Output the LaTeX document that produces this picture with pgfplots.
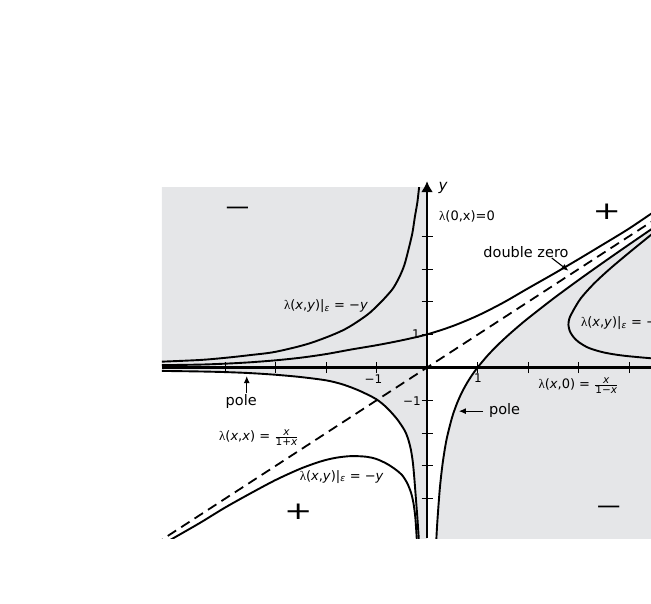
\documentclass[border=0pt]{standalone}
\usepackage{fontspec}
\setmainfont{DejaVu Sans}
\newfontfamily\lam{Liberation Serif}
\usepackage{pgfplots}
\pgfplotsset{compat=1.18}
\usetikzlibrary{arrows.meta}
\definecolor{shade}{RGB}{229,230,232}
\newcommand\lfrac[2]{$\frac{\mbox{\fontsize{10.5}{10.5}\selectfont #1}}{\mbox{\fontsize{10.5}{10.5}\selectfont #2}}$}
\newcommand\lab{\fontsize{13}{15}\selectfont}
\newcommand\bigsign{\fontsize{26}{26}\selectfont}
\begin{document}
\begin{tikzpicture}
\begin{axis}[
  at={(161.9pt,64.9pt)}, anchor=south west,
  scale only axis, width=489.85pt, height=350.96pt,
  xmin=-5.25, xmax=4.45, ymin=-5.2, ymax=5.5,
  axis lines=middle, axis on top,
  clip mode=individual,
  x axis line style={line width=2.5pt,-},
  y axis line style={line width=2.5pt,-{Latex[length=11pt,width=12pt]}, shorten >=-6pt},
  xtick={-4,-3,-2,-1,1,2,3,4}, ytick={-4,-3,-2,-1,1,2,3,4},
  xticklabels={}, yticklabels={},
  tick align=center, major tick length=11pt,
  tick style={line width=1pt, black},
]
% gray regions
\addplot[fill=shade, draw=none] coordinates {
 (-5.4,5.7) (0,5.7) (0,-5.4)
 (-0.16,-5.3) (-0.19,-4.6) (-0.22,-4.0) (-0.25,-3.4) (-0.28,-2.9) (-0.32,-2.5)
 (-0.38,-2.15) (-0.45,-1.9) (-0.6,-1.56) (-0.8,-1.22) (-1.0,-0.97) (-1.25,-0.77)
 (-1.46,-0.63) (-1.7,-0.5) (-2,-0.39) (-2.5,-0.29) (-3,-0.22) (-3.5,-0.17)
 (-3.97,-0.14) (-4.5,-0.12) (-5.4,-0.1)
} -- cycle;
\addplot[fill=shade, draw=none] coordinates {
 (0.18,-5.4) (0.2,-4.8) (0.25,-3.75) (0.3,-3.033) (0.35,-2.507) (0.4,-2.1)
 (0.5,-1.5) (0.6,-1.067) (0.7,-0.729) (0.8,-0.45) (0.9,-0.211) (1,0)
 (1.2,0.367) (1.4,0.686) (1.6,0.975) (1.8,1.244) (2,1.5) (2.5,2.1) (3,2.667)
 (3.5,3.214) (4,3.75) (4.6,4.383) (4.6,-5.4)
} -- cycle;
% dashed diagonal
\addplot[black, line width=1.8pt, dash pattern=on 10pt off 6pt] coordinates {(-5.4,-5.4) (4.6,4.6)};
% curve A (upper left)
\addplot[black, line width=1.9pt, smooth] coordinates {
 (-5.4,0.17) (-4.5,0.23) (-3.97,0.3) (-3.5,0.38) (-3.0,0.48) (-2.32,0.74)
 (-1.66,1.14) (-1.19,1.6) (-0.93,1.97) (-0.8,2.18) (-0.67,2.42) (-0.55,2.75)
 (-0.45,3.12) (-0.37,3.58) (-0.29,4.1) (-0.24,4.6) (-0.19,5.05) (-0.15,5.6)
};
% curve B through (0,1)
\addplot[black, line width=1.9pt, smooth] coordinates {
 (-5.4,0.07) (-4.5,0.09) (-3.97,0.12) (-3.5,0.16) (-3,0.22) (-2.5,0.3)
 (-2,0.41) (-1.5,0.55) (-1,0.68) (-0.5,0.83) (0,1.01) (0.5,1.26) (1,1.58)
 (1.5,1.97) (2,2.414) (2.5,2.851) (3,3.303) (3.5,3.766) (4,4.236) (4.6,4.86)
};
% pole curve right
\addplot[black, line width=1.9pt, smooth] coordinates {
 (0.18,-5.4) (0.2,-4.8) (0.25,-3.75) (0.3,-3.033) (0.35,-2.507) (0.4,-2.1)
 (0.5,-1.5) (0.6,-1.067) (0.7,-0.729) (0.8,-0.45) (0.9,-0.211) (1,0)
 (1.2,0.367) (1.4,0.686) (1.6,0.975) (1.8,1.244) (2,1.5) (2.5,2.1) (3,2.667)
 (3.5,3.214) (4,3.75) (4.6,4.383)
};
% pole curve left
\addplot[black, line width=1.9pt, smooth] coordinates {
 (-5.4,-0.1) (-4.5,-0.12) (-3.97,-0.14) (-3.5,-0.17) (-3,-0.22) (-2.5,-0.29)
 (-2,-0.39) (-1.7,-0.5) (-1.46,-0.63) (-1.25,-0.77) (-1.0,-0.97) (-0.8,-1.22)
 (-0.6,-1.56) (-0.45,-1.9) (-0.38,-2.15) (-0.32,-2.5) (-0.28,-2.9) (-0.25,-3.4)
 (-0.22,-4.0) (-0.19,-4.6) (-0.16,-5.3)
};
% curve C (right)
\addplot[black, line width=1.9pt, smooth] coordinates {
 (4.6,4.25) (4.0,3.5) (3.6,2.98) (3.3,2.55) (3.05,2.12) (2.9,1.75) (2.82,1.5)
 (2.8,1.3) (2.83,1.1) (2.9,0.93) (3.0,0.78) (3.2,0.6) (3.5,0.46) (3.9,0.36) (4.6,0.26)
};
% curve D (lower left)
\addplot[black, line width=1.9pt, smooth] coordinates {
 (-5.3,-5.45) (-5.02,-5.2) (-4.5,-4.74) (-4,-4.27) (-3.5,-3.84) (-3,-3.43)
 (-2.5,-3.08) (-2.1,-2.86) (-1.8,-2.75) (-1.5,-2.70) (-1.2,-2.72) (-1.0,-2.79)
 (-0.8,-2.93) (-0.63,-3.1) (-0.5,-3.27) (-0.4,-3.5) (-0.32,-3.8) (-0.27,-4.12)
 (-0.23,-4.6) (-0.2,-5.3)
};
% annotations
\draw[-{Latex[length=7pt,width=6pt]}, line width=1.1pt] (2.47,3.34) -- (2.80,2.95);
\draw[-{Latex[length=7pt,width=6pt]}, line width=1.1pt] (-3.57,-0.79) -- (-3.57,-0.26);
\draw[-{Latex[length=7pt,width=6pt]}, line width=1.1pt] (1.11,-1.33) -- (0.63,-1.33);
\node[font=\fontsize{14.5}{16}\selectfont] at (1.96,3.53) {double zero};
\node[font=\fontsize{14.5}{16}\selectfont] at (-3.68,-1.04) {pole};
\node[font=\fontsize{14.5}{16}\selectfont, anchor=west] at (1.16,-1.31) {pole};
\node[font=\lab, anchor=west] at (0.17,4.6) {{\lam λ}(0,x)=0};
\node[font=\fontsize{15}{15}\selectfont\itshape] at (0.32,5.46) {y};
\node[font=\lab] at (-2.0,1.87) {{\lam λ}(\textit{x},\textit{y})|\textsubscript{\textit{ε}} = −\textit{y}};
\node[font=\lab, anchor=west] at (2.98,1.35) {{\lam λ}(\textit{x},\textit{y})|\textsubscript{\textit{ε}} = −\textit{y}};
\node[font=\lab] at (-1.69,-3.33) {{\lam λ}(\textit{x},\textit{y})|\textsubscript{\textit{ε}} = −\textit{y}};
\node[font=\lab] at (3.0,-0.55) {{\lam λ}(\textit{x},0) = \lfrac{\textit{x}}{1−\textit{x}}};
\node[font=\lab] at (-3.33,-2.13) {{\lam λ}(\textit{x},\textit{x}) = \lfrac{\textit{x}}{1+\textit{x}}};
\node[font=\fontsize{12}{12}\selectfont] at (1.01,-0.33) {1};
\node[font=\fontsize{12}{12}\selectfont] at (-1.06,-0.36) {−1};
\node[font=\fontsize{12}{12}\selectfont] at (-0.22,1.03) {1};
\node[font=\fontsize{12}{12}\selectfont] at (-0.3,-1.02) {−1};
\node[font=\bigsign] at (-3.75,4.78) {\scalebox{1.3}[0.8]{−}};
\node[font=\bigsign] at (3.60,-4.34) {\scalebox{1.3}[0.8]{−}};
\node[font=\bigsign] at (3.56,4.75) {\scalebox{1.3}[0.95]{+}};
\node[font=\bigsign] at (-2.55,-4.40) {\scalebox{1.3}[0.95]{+}};
\end{axis}
\pgfresetboundingbox
\useasboundingbox (0,0) rectangle (651pt,603pt);
\end{tikzpicture}
\end{document}
